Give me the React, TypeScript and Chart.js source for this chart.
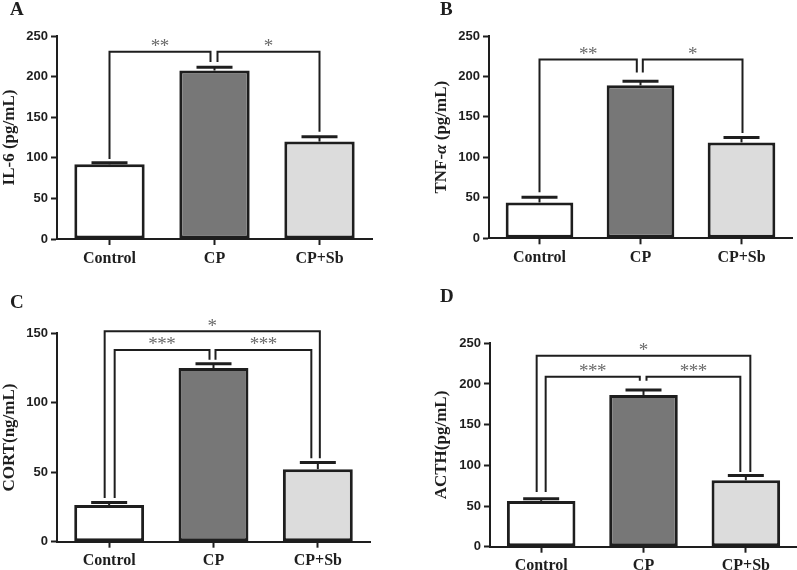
import React, { useEffect, useRef } from "react";
import { Chart, registerables } from "chart.js";
Chart.register(...registerables);

// ---------- data ----------
const categories = ["Control", "CP", "CP+Sb"];

const il6Values = [92, 207.5, 120];
const il6Errors = [2, 4, 5.8];
const tnfValues = [44.3, 189, 118.5];
const tnfErrors = [6.3, 5, 6];
const cortValues = [26.4, 125, 52.2];
const cortErrors = [1.8, 3, 4.8];
const acthValues = [56.3, 186.5, 81.6];
const acthErrors = [2.5, 6, 6];

const il6Max = 250;
const tnfMax = 250;
const cortMax = 150;
const acthMax = 250;
const tickStep = 50;

// significance brackets: [fromIndex, toIndex, level, fromLegEnd, toLegEnd, label]
type Bracket = [number, number, number, number, number, string];
const il6Brackets: Bracket[] = [
  [0, 1, 230.6, 98.5, 218, "**"],
  [1, 2, 230.6, 218, 132, "*"],
];
const tnfBrackets: Bracket[] = [
  [0, 1, 221, 57, 205, "**"],
  [1, 2, 221, 205, 130, "*"],
];
const cortBrackets: Bracket[] = [
  [0, 2, 151.4, 31.4, 60, "*"],
  [0, 1, 138, 31.4, 131, "***"],
  [1, 2, 138, 131, 60, "***"],
];
const acthBrackets: Bracket[] = [
  [0, 2, 234.6, 67.3, 91.8, "*"],
  [0, 1, 208.8, 67.3, 204, "***"],
  [1, 2, 208.8, 204, 91.8, "***"],
];

// ---------- styles ----------
const INK = "#1e1e1e";
const barFills = ["#ffffff", "#777777", "#dcdcdc"];
const SERIF = '"Liberation Serif", "Times New Roman", serif';
const SANS = '"Liberation Sans", Arial, sans-serif';

type TitleSeg = { text: string; italic?: boolean };

type PanelCfg = {
  letter: string;
  letterPos: [number, number];
  left: number;
  top: number;
  w: number;
  h: number;
  area: { l: number; t: number; r: number; b: number };
  titleX: number;
  title: TitleSeg[];
  values: number[];
  errors: number[];
  max: number;
  brackets: Bracket[];
  legOffsets: [number, number][];
};

const panels: PanelCfg[] = [
  {
    letter: "A", letterPos: [10, 15],
    left: 0, top: 0, w: 400, h: 280,
    area: { l: 57, t: 36, r: 372, b: 239 },
    titleX: 10,
    title: [{ text: "IL-6 (pg/mL)" }],
    values: il6Values, errors: il6Errors, max: il6Max,
    brackets: il6Brackets, legOffsets: [[0, -4], [3, 0]],
  },
  {
    letter: "B", letterPos: [40, 15],
    left: 400, top: 0, w: 397, h: 280,
    area: { l: 89, t: 36, r: 392, b: 238.3 },
    titleX: 41.7,
    title: [{ text: "TNF-" }, { text: "α", italic: true }, { text: " (pg/mL)" }],
    values: tnfValues, errors: tnfErrors, max: tnfMax,
    brackets: tnfBrackets, legOffsets: [[0, -3.7], [2.3, 1]],
  },
  {
    letter: "C", letterPos: [10, 28],
    left: 0, top: 280, w: 400, h: 290,
    area: { l: 57, t: 53.3, r: 370, b: 261.7 },
    titleX: 10,
    title: [{ text: "CORT(ng/mL)" }],
    values: cortValues, errors: cortErrors, max: cortMax,
    brackets: cortBrackets, legOffsets: [[-4.5, 2], [5.5, -4], [2, -6.5]],
  },
  {
    letter: "D", letterPos: [40, 22],
    left: 400, top: 280, w: 397, h: 290,
    area: { l: 90, t: 63.3, r: 397, b: 266.7 },
    titleX: 41.5,
    title: [{ text: "ACTH(pg/mL)" }],
    values: acthValues, errors: acthErrors, max: acthMax,
    brackets: acthBrackets, legOffsets: [[-4.5, 4.5], [4.5, -3.7], [3, -5.5]],
  },
];

function Panel({ cfg }: { cfg: PanelCfg }) {
  const ref = useRef<HTMLCanvasElement>(null);
  useEffect(() => {
    const canvas = ref.current!;
    const { area, w, h } = cfg;
    const annot = {
      id: "annot",
      afterDatasetsDraw(chart: any) {
        const ctx = chart.ctx as CanvasRenderingContext2D;
        const ys = chart.scales.y;
        const meta = chart.getDatasetMeta(0);
        ctx.save();
        ctx.strokeStyle = INK;
        meta.data.forEach((bar: any, i: number) => {
          const x = bar.x;
          const yb = bar.y;
          const yt = ys.getPixelForValue(cfg.values[i] + cfg.errors[i]);
          ctx.lineWidth = 2;
          ctx.beginPath();
          ctx.moveTo(x, yb);
          ctx.lineTo(x, yt);
          ctx.stroke();
          ctx.lineWidth = 3;
          ctx.beginPath();
          ctx.moveTo(x - 18, yt);
          ctx.lineTo(x + 18, yt);
          ctx.stroke();
        });
        ctx.restore();
      },
      afterDraw(chart: any) {
        const ctx = chart.ctx as CanvasRenderingContext2D;
        const xs = chart.scales.x;
        const ys = chart.scales.y;
        ctx.save();
        // brackets
        cfg.brackets.forEach((b, k) => {
          const [from, to, level, fromEnd, toEnd, label] = b;
          const [o1, o2] = cfg.legOffsets[k];
          const x1 = xs.getPixelForValue(from) + o1;
          const x2 = xs.getPixelForValue(to) + o2;
          const yl = ys.getPixelForValue(level);
          ctx.strokeStyle = INK;
          ctx.lineWidth = 2;
          ctx.lineJoin = "miter";
          ctx.beginPath();
          ctx.moveTo(x1, ys.getPixelForValue(fromEnd));
          ctx.lineTo(x1, yl);
          ctx.lineTo(x2, yl);
          ctx.lineTo(x2, ys.getPixelForValue(toEnd));
          ctx.stroke();
          // stars
          ctx.fillStyle = "#6a6a6a";
          ctx.font = `19px ${SERIF}`;
          ctx.textAlign = "center";
          ctx.textBaseline = "alphabetic";
          const m = ctx.measureText("*");
          const asc = m.actualBoundingBoxAscent;
          const desc = m.actualBoundingBoxDescent;
          const cy = yl - 9;
          const baseY = cy + (asc - desc) / 2;
          const mid = (x1 + x2) / 2;
          const n = label.length;
          for (let s = 0; s < n; s++) {
            ctx.fillText("*", mid + (s - (n - 1) / 2) * 9, baseY);
          }
        });
        // y axis title
        ctx.fillStyle = INK;
        const cyT = (chart.chartArea.top + chart.chartArea.bottom) / 2;
        ctx.translate(cfg.titleX, cyT);
        ctx.rotate(-Math.PI / 2);
        ctx.textBaseline = "middle";
        ctx.textAlign = "left";
        const fontFor = (seg: TitleSeg) => `${seg.italic ? "italic " : ""}bold 17px ${SERIF}`;
        let total = 0;
        cfg.title.forEach((seg) => {
          ctx.font = fontFor(seg);
          total += ctx.measureText(seg.text).width;
        });
        let xx = -total / 2;
        cfg.title.forEach((seg) => {
          ctx.font = fontFor(seg);
          ctx.fillText(seg.text, xx, 0);
          xx += ctx.measureText(seg.text).width;
        });
        ctx.setTransform(1, 0, 0, 1, 0, 0);
        // panel letter
        ctx.font = `bold 19px ${SERIF}`;
        ctx.textAlign = "left";
        ctx.textBaseline = "alphabetic";
        ctx.fillText(cfg.letter, cfg.letterPos[0], cfg.letterPos[1]);
        ctx.restore();
      },
    };

    const chart = new Chart(canvas, {
      type: "bar",
      data: {
        labels: categories,
        datasets: [
          {
            data: cfg.values,
            backgroundColor: barFills,
            borderColor: INK,
            borderWidth: 3,
            borderSkipped: false,
            barPercentage: 0.67,
            categoryPercentage: 1,
          },
        ],
      },
      options: {
        responsive: false,
        animation: false,
        layout: { padding: { top: area.t, right: w - area.r, left: 0, bottom: 0 } },
        plugins: {
          legend: { display: false },
          tooltip: { enabled: false },
          title: { display: false },
        },
        scales: {
          x: {
            offset: true,
            grid: {
              offset: false,
              drawOnChartArea: false,
              tickLength: 6,
              tickColor: INK,
              tickWidth: 2,
            },
            border: { color: INK, width: 2 },
            ticks: {
              color: INK,
              font: { family: SERIF, size: 16, weight: "bold" },
              padding: 4,
              maxRotation: 0,
            },
            afterFit: (s: any) => {
              s.height = h - area.b;
            },
          },
          y: {
            min: 0,
            max: cfg.max,
            ticks: {
              stepSize: tickStep,
              color: INK,
              font: { family: SANS, size: 13, weight: "bold" },
              padding: 3,
            },
            grid: {
              drawOnChartArea: false,
              tickLength: 6,
              tickColor: INK,
              tickWidth: 2,
            },
            border: { color: INK, width: 2 },
            afterFit: (s: any) => {
              s.width = area.l;
            },
          },
        },
      } as any,
      plugins: [annot],
    });
    return () => chart.destroy();
  }, [cfg]);

  return (
    <canvas
      ref={ref}
      width={cfg.w}
      height={cfg.h}
      style={{ position: "absolute", left: cfg.left, top: cfg.top, width: cfg.w, height: cfg.h }}
    />
  );
}

export default function App() {
  return (
    <div
      style={{
        position: "absolute",
        left: 0,
        top: 0,
        width: 797,
        height: 570,
        background: "#ffffff",
        overflow: "hidden",
      }}
    >
      {panels.map((p) => (
        <Panel key={p.letter} cfg={p} />
      ))}
    </div>
  );
}
